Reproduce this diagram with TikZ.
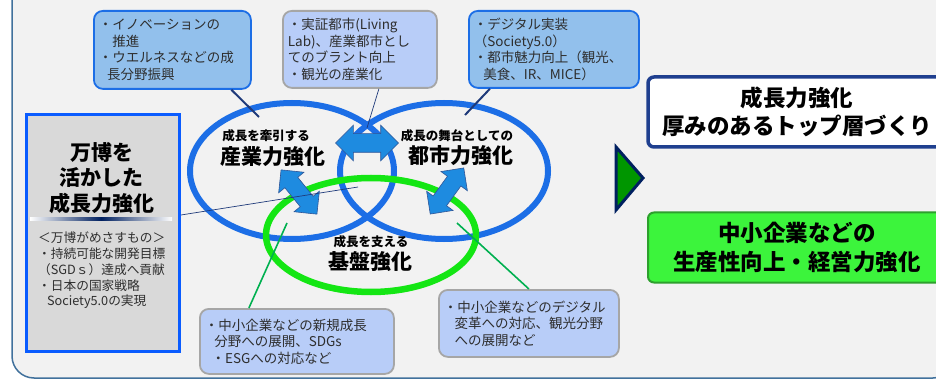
\documentclass[tikz,border=0pt]{standalone}
\usepackage{fontspec}
\setmainfont{Noto Sans CJK JP}
\usetikzlibrary{shapes.arrows}

\definecolor{framebg}{HTML}{F2F2F2}
\definecolor{framedraw}{HTML}{41719C}
\definecolor{ellblue}{HTML}{1C6EE6}
\definecolor{ellgreen}{HTML}{14E614}
\definecolor{cbblue}{HTML}{92C0EC}
\definecolor{cbgray}{HTML}{A6A6A6}
\definecolor{cbpale}{HTML}{B8CDF8}
\definecolor{arrowfill}{HTML}{1E8BE0}
\definecolor{arrowdraw}{HTML}{2F5597}
\definecolor{expogray}{HTML}{D9D9D9}
\definecolor{expoblue}{HTML}{0A5CFF}
\definecolor{navyline}{HTML}{1F3A7A}
\definecolor{topboxdraw}{HTML}{1F3F8F}
\definecolor{greenfill}{HTML}{3CF43C}
\definecolor{greendraw}{HTML}{2DA02D}
\definecolor{trigreen}{HTML}{009600}
\definecolor{trinavy}{HTML}{002060}
\definecolor{pointgreen}{HTML}{00B050}

\tikzset{
  callout/.style={rounded corners=9pt, line width=1.8pt, align=left, inner sep=5pt,
    anchor=north west, text=black!82, font=\fontsize{13.5}{16.5}\selectfont},
  bluecall/.style={callout, fill=cbblue, draw=ellblue},
  palecall/.style={callout, fill=cbpale, draw=cbgray},
  blkarrow/.style={double arrow, fill=arrowfill, draw=arrowdraw, line width=0.6pt,
    inner xsep=0pt},
  smalllabel/.style={font=\bfseries\fontsize{12.5}{14}\selectfont},
  biglabel/.style={font=\bfseries\fontsize{21}{24}\selectfont},
  resultbox/.style={rounded corners=6pt, minimum width=298pt, minimum height=70pt,
    align=center, font=\bfseries\fontsize{22.5}{28.5}\selectfont}
}

\begin{document}
\begin{tikzpicture}[x=1pt,y=-1pt]
  \useasboundingbox (0,0) rectangle (936,379);
  \clip (0,0) rectangle (936,379);
  % frame
  \draw[fill=framebg, draw=framedraw, line width=1.5pt, rounded corners=22pt]
    (12,-40) rectangle (955,378);

  % three rings
  \draw[ellblue, line width=6pt] (292,171) ellipse [x radius=102pt, y radius=68pt];
  \draw[ellblue, line width=6pt] (444,171) ellipse [x radius=104pt, y radius=68pt];
  \draw[ellgreen, line width=6.5pt] (371,235) ellipse [x radius=105pt, y radius=57pt];

  % labels in the rings
  \node[smalllabel] (lblLead) at (266,136) {成長を牽引する};
  \node[biglabel] (lblIndustry) at (273,157) {産業力強化};
  \node[smalllabel] (lblStage) at (457,136) {成長の舞台としての};
  \node[biglabel] (lblCity) at (461,156) {都市力強化};
  \node[smalllabel] (lblSupport) at (371,242) {成長を支える};
  \node[biglabel] (lblBase) at (370,262) {基盤強化};

  % block arrows
  \node[blkarrow, inner ysep=9pt, double arrow head extend=8.5pt,
    minimum height=63pt] (arrTop) at (367,143) {};
  \node[blkarrow, inner ysep=8pt, double arrow head extend=8pt,
    minimum height=57pt, rotate=-51] (arrLeft) at (299,192) {};
  \node[blkarrow, inner ysep=8pt, double arrow head extend=8pt,
    minimum height=57pt, rotate=54] (arrRight) at (447,191) {};

  % expo box
  \node[fill=expogray, draw=expoblue, line width=3pt, anchor=north west,
    minimum width=153pt, minimum height=237pt] (boxExpo) at (25,113) {};
  \node[align=center, font=\bfseries\fontsize{21}{25.5}\selectfont] (expoTitle) at (101.5,178)
    {万博を\\活かした\\成長力強化};
  \shade[left color=white, right color=white, middle color=trinavy] (30,217.5) rectangle (172,220.5);
  \node[align=left, anchor=west, inner sep=0pt, text=black!82,
    font=\fontsize{12.7}{15.8}\selectfont] (expoAims) at (38,270.5)
    {＜万博がめさすもの＞\\・持続可能な開発目標\\（SGDｓ）達成へ貢献\\・日本の国家戦略\\\hspace*{.7em}Society5.0の実現};

  % callouts
  \node[bluecall, minimum width=157pt, minimum height=78pt, text width=147pt] (cbInnov) at (93,10)
    {・イノベーションの\\\hspace*{1em}推進\\・ウエルネスなどの成\\\hspace*{.6em}長分野振興};
  \node[palecall, minimum width=154pt, minimum height=77pt, text width=144pt] (cbLiving) at (282,10)
    {・実証都市(Living\\Lab)、産業都市とし\\てのブラント向上\\・観光の産業化};
  \node[bluecall, minimum width=170pt, minimum height=77pt, text width=160pt] (cbDigital) at (468,10)
    {・デジタル実装\\（Society5.0）\\・都市魅力向上（観光、\\\hspace*{.7em}美食、IR、MICE）};
  \node[palecall, minimum width=194pt, minimum height=65pt, text width=184pt] (cbSme) at (199,308)
    {・中小企業などの新規成長\\\hspace*{.7em}分野への展開、SDGs\\\hspace*{.5em}・ESGへの対応など};
  \node[palecall, minimum width=180pt, minimum height=67pt, text width=170pt] (cbSmeDx) at (438,289)
    {・中小企業などのデジタル\\\hspace*{.8em}変革への対応、観光分野\\\hspace*{.8em}への展開など};

  % pointer lines
  \coordinate (ptInnov) at (259,117);
  \coordinate (ptLiving) at (367,128);
  \coordinate (ptDigital) at (465,115);
  \coordinate (ptExpo) at (358,187);
  \coordinate (ptSme) at (287,223);
  \coordinate (ptSmeDx) at (457,223);
  \draw[navyline, line width=2pt] ([xshift=59pt]cbInnov.south) -- (ptInnov);
  \draw[navyline, line width=0.7pt] ([xshift=19pt]cbLiving.south) -- (ptLiving);
  \draw[navyline, line width=2pt] ([xshift=-64pt]cbDigital.south) -- (ptDigital);
  \draw[navyline, line width=0.7pt] ([yshift=18pt]boxExpo.east) -- (ptExpo);
  \draw[pointgreen, line width=1.6pt] ([xshift=-48pt]cbSme.north) -- (ptSme);
  \draw[pointgreen, line width=1.6pt] (cbSmeDx.north) -- (ptSmeDx);

  % result side
  \draw[fill=trigreen, draw=trinavy, line width=3pt] (616,147) -- (643,178) -- (616,210) -- cycle;
  \node[resultbox, fill=white, draw=topboxdraw, line width=3.5pt] (boxGrowth) at (797,112)
    {成長力強化\\厚みのあるトップ層づくり};
  \node[resultbox, fill=greenfill, draw=greendraw, line width=2pt] (boxSme) at (797,247.5)
    {中小企業などの\\生産性向上・経営力強化};
\end{tikzpicture}
\end{document}
